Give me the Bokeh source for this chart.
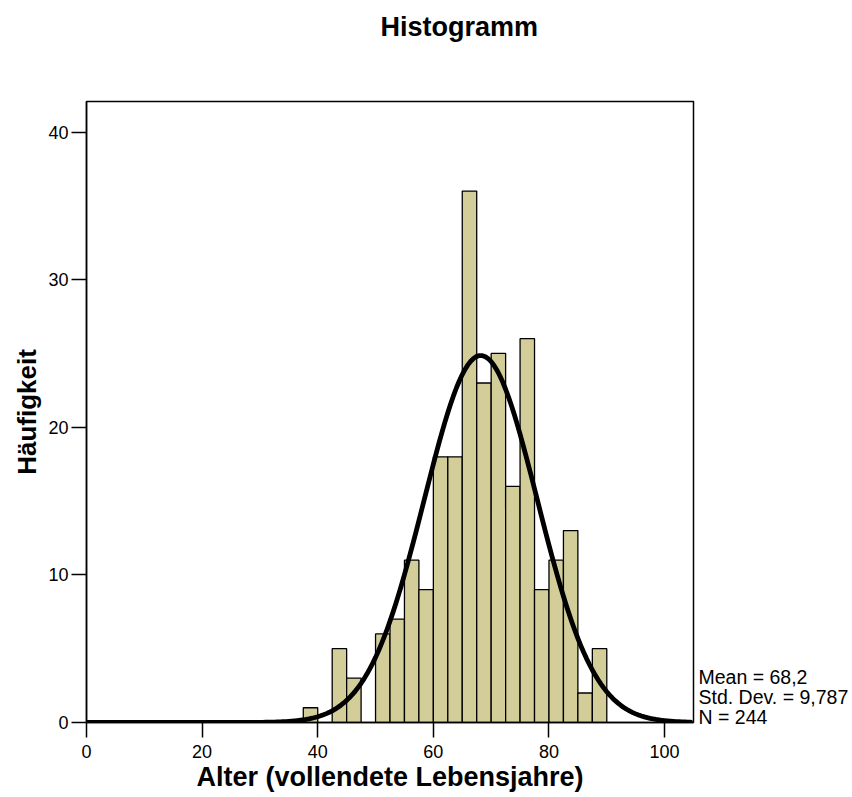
from bokeh.plotting import figure
from bokeh.models import (Range1d, FixedTicker, ColumnDataSource, LinearAxis, Title,
                          AllLabels)
from bokeh.embed import file_html
from bokeh.resources import INLINE
import numpy as np

# ---- data ----
bin_start = 37.5
bin_width = 2.5
counts = [1, 0, 5, 3, 0, 6, 7, 11, 9, 18, 18, 36, 23, 25, 16, 26, 9, 11, 13, 2, 5]
mean_val = 68.2
std_val = 9.787
n_val = 244
x_ticks = [0, 20, 40, 60, 80, 100]
y_ticks = [0, 10, 20, 30, 40]
stats_lines = ["Mean = 68,2", "Std. Dev. = 9,787", "N = 244"]
title_text = "Histogramm"

FONT = "Liberation Sans"
W, H = 852, 797

lefts = [bin_start + i * bin_width for i in range(len(counts))]
src = ColumnDataSource(dict(
    left=[l for l, c in zip(lefts, counts) if c > 0],
    right=[l + bin_width for l, c in zip(lefts, counts) if c > 0],
    top=[c for c in counts if c > 0],
))

p = figure(width=W, height=H, output_backend="svg", toolbar_location=None,
           x_range=Range1d(0, 105), y_range=Range1d(0, 42.07),
           min_border_left=86, min_border_right=159, min_border_top=101, min_border_bottom=75)

# title (outermost) + an empty spacer panel between title and frame
main_title = Title(text=title_text, text_font=FONT, text_font_size="27px",
                   text_font_style="bold", text_color="black", align="left",
                   offset=294, vertical_align="top", standoff=22)
spacer = Title(text=" ", text_font=FONT, text_font_size="10px", standoff=34)
p.above = [spacer, main_title]

p.background_fill_color = "white"
p.border_fill_color = "white"
p.outline_line_color = "black"
p.outline_line_width = 1.5
p.grid.visible = False

p.quad(left="left", right="right", top="top", bottom=0, source=src,
       fill_color="#d3ce99", line_color="black", line_width=1.3)

# fitted normal curve from the displayed statistics
xs = np.arange(0, 104.51, 0.5)
ys = n_val * bin_width * np.exp(-0.5 * ((xs - mean_val) / std_val) ** 2) / (std_val * np.sqrt(2 * np.pi))
p.line(xs, ys, line_color="black", line_width=4.8, line_cap="round", line_join="round")

for ax, ticks in ((p.xaxis, x_ticks), (p.yaxis, y_ticks)):
    ax.ticker = FixedTicker(ticks=ticks)
    ax.minor_tick_line_color = None
    ax.major_tick_in = 0
    ax.major_tick_out = 15
    ax.major_tick_line_width = 1.5
    ax.axis_line_width = 1.5
    ax.axis_line_color = "black"
    ax.major_tick_line_color = "black"
    ax.major_label_text_font = FONT
    ax.major_label_text_font_size = "18px"
    ax.major_label_text_color = "black"
    ax.axis_label_text_font = FONT
    ax.axis_label_text_font_style = "bold"
    ax.axis_label_text_color = "black"

p.xaxis.axis_label = "Alter (vollendete Lebensjahre)"
p.xaxis.axis_label_text_font_size = "27px"
p.xaxis.major_label_standoff = 7
p.xaxis.axis_label_standoff = 1
p.yaxis.axis_label = "Häufigkeit"
p.yaxis.axis_label_text_font_size = "26px"
p.yaxis.major_label_standoff = 3
p.yaxis.axis_label_standoff = 3

# statistics text shown as labels of an unlined axis on the right
# (auxiliary range measured in half-pixels from the frame bottom)
p.extra_y_ranges = {"stats": Range1d(0, 1242)}
stat_ticks = [91, 51, 11]
stats_axis = LinearAxis(y_range_name="stats", ticker=FixedTicker(ticks=stat_ticks),
                        major_label_overrides={t: s for t, s in zip(stat_ticks, stats_lines)},
                        major_label_policy=AllLabels(),
                        axis_line_color=None, major_tick_line_color=None,
                        minor_tick_line_color=None, major_tick_in=0, major_tick_out=0,
                        major_label_standoff=5, major_label_text_font=FONT,
                        major_label_text_font_size="19.5px", major_label_text_color="black")
p.add_layout(stats_axis, "right")

open("out.html", "w").write(file_html(p, INLINE))
